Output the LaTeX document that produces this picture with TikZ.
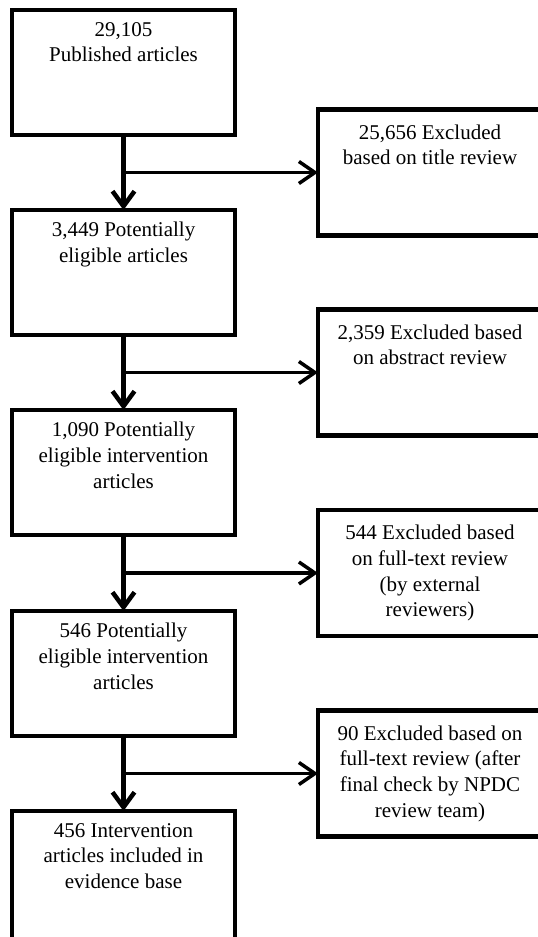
\documentclass[tikz,border=0pt]{standalone}
\usepackage{fontspec}
\setmainfont{Liberation Serif}
\usetikzlibrary{positioning,arrows.meta}

\begin{document}
\begin{tikzpicture}
        [x=1pt, y=1pt,
        every node/.style={font=\fontsize{21}{25.7}\selectfont},
        stage/.style={rectangle, draw, line width=4.5pt, outer sep=0pt, minimum width=223pt, minimum height=125pt},
        excl/.style={rectangle, draw, line width=4.5pt, outer sep=0pt, minimum width=224pt, minimum height=126pt},
        txt/.style={align=center, inner sep=0pt},
        flow/.style={line width=4.5pt, -{Straight Barb[length=15pt, width=22pt]}},
        side/.style={line width=3.5pt, -{Straight Barb[length=16pt, width=22pt]}},]

        \clip (0,0) rectangle (538,-937);

        % main stages
        \node[stage] (s1) at (123.5,-72.5) {};
        \node[stage, below=75pt of s1] (s2) {};
        \node[stage, below=75pt of s2] (s3) {};
        \node[stage, below=76pt of s3] (s4) {};
        \node[stage, below=75pt of s4, minimum height=140pt] (s5) {};

        \node[txt, below=12pt of s1.north] (t1) {29,105\\Published articles};
        \node[txt, below=12pt of s2.north] (t2) {3,449 Potentially\\eligible articles};
        \node[txt, below=12pt of s3.north] (t3) {1,090 Potentially\\eligible intervention\\articles};
        \node[txt, below=12pt of s4.north] (t4) {546 Potentially\\eligible intervention\\articles};
        \node[txt, below=12pt of s5.north] (t5) {456 Intervention\\articles included in\\evidence base};

        % exclusions
        \node[excl] (x1) at (430,-172.5) {};
        \node[excl] (x2) at (430,-372.5) {};
        \node[excl] (x3) at (430,-573) {};
        \node[excl] (x4) at (430,-773.5) {};

        \node[txt, below=15pt of x1.north] (u1) {25,656 Excluded\\based on title review};
        \node[txt, below=15pt of x2.north] (u2) {2,359 Excluded based\\on abstract review};
        \node[txt, below=15pt of x3.north] (u3) {544 Excluded based\\on full-text review\\(by external\\reviewers)};
        \node[txt, below=15pt of x4.north] (u4) {90 Excluded based on\\full-text review (after\\final check by NPDC\\review team)};

        % arrows
        \draw[flow] (s1) -- (s2);
        \draw[flow] (s2) -- (s3);
        \draw[flow] (s3) -- (s4);
        \draw[flow] (s4) -- (s5);

        \draw[side] (s1.south |- x1) -- (x1);
        \draw[side] (s2.south |- x2) -- (x2);
        \draw[side] (s3.south |- x3) -- (x3);
        \draw[side] (s4.south |- x4) -- (x4);

    \end{tikzpicture}
\end{document}
